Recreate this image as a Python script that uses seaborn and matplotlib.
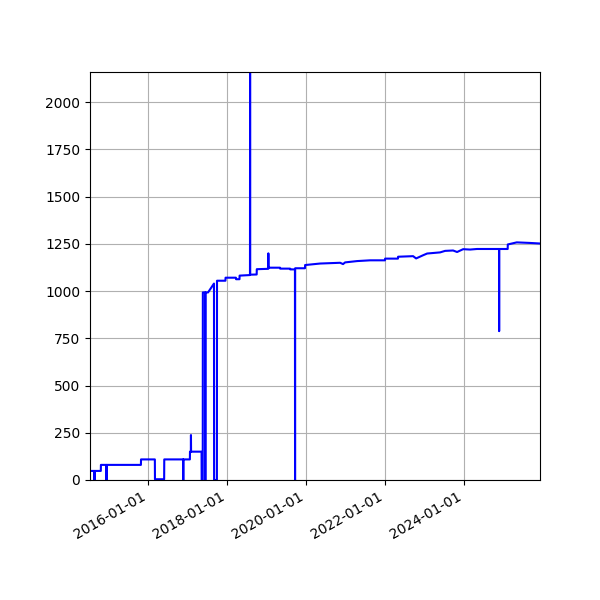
import pandas as pd
import matplotlib
matplotlib.use("Agg")
import matplotlib.pyplot as plt
import matplotlib.dates as mdates
import seaborn as sns

dates = [
    "2014-07-13", "2014-08-23", "2014-08-24", "2014-08-25", "2014-10-21", "2014-10-22",
    "2014-12-12", "2014-12-13", "2014-12-14", "2015-10-27", "2015-10-28", "2016-03-04",
    "2016-03-05", "2016-05-29", "2016-05-30", "2016-11-21", "2016-11-22", "2016-11-23",
    "2017-01-22", "2017-01-23", "2017-01-31", "2017-02-01", "2017-02-02", "2017-05-10",
    "2017-05-11", "2017-05-21", "2017-05-22", "2017-06-13", "2017-06-14", "2017-06-15",
    "2017-07-09", "2017-09-02", "2017-09-03", "2017-09-29", "2017-09-30", "2017-12-17",
    "2017-12-18", "2018-03-24", "2018-03-25", "2018-04-26", "2018-04-27", "2018-08-01",
    "2018-08-02", "2018-08-03", "2018-10-02", "2018-10-03", "2019-01-17", "2019-01-18",
    "2019-01-19", "2019-05-06", "2019-05-07", "2019-08-07", "2019-08-08", "2019-09-21",
    "2019-09-22", "2019-09-23", "2019-12-23", "2019-12-24", "2020-05-11", "2020-11-12",
    "2020-12-09", "2020-12-28", "2021-04-18", "2021-08-16", "2022-01-01", "2022-01-02",
    "2022-05-01", "2022-05-02", "2022-09-18", "2022-10-16", "2022-12-20", "2023-01-26",
    "2023-05-26", "2023-07-11", "2023-09-23", "2023-10-30", "2023-12-25", "2024-02-27",
    "2024-05-01", "2024-11-21", "2024-11-22", "2024-11-23", "2025-02-09", "2025-02-10",
    "2025-05-04", "2025-09-04", "2025-12-05",
]
counts = [
    48, 48, 0, 48, 48, 80,
    80, 0, 80, 80, 109, 109,
    4, 4, 109, 109, 0, 109,
    109, 150, 150, 238, 150, 150,
    0, 0, 993, 993, 0, 993,
    993, 1040, 0, 0, 1055, 1055,
    1071, 1071, 1063, 1063, 1082, 1085,
    2160, 1087, 1088, 1116, 1118, 1200,
    1124, 1124, 1119, 1119, 1115, 1115,
    0, 1121, 1121, 1138, 1146, 1150,
    1143, 1152, 1159, 1163, 1163, 1172,
    1172, 1182, 1185, 1173, 1190, 1199,
    1205, 1213, 1215, 1207, 1222, 1220,
    1223, 1223, 788, 1223, 1223, 1247,
    1258, 1255, 1252,
]

df = pd.DataFrame({"date": pd.to_datetime(dates), "count": counts})

fig, ax = plt.subplots(figsize=(6, 6), dpi=100)
sns.lineplot(data=df, x="date", y="count", color="blue", linewidth=1.5,
             estimator=None, ax=ax)

ax.margins(0)
ax.set_ylim(0, df["count"].max())
ax.grid(True)
ax.set_xlabel("")
ax.set_ylabel("")
ax.xaxis.set_major_locator(mdates.YearLocator(2))
ax.xaxis.set_major_formatter(mdates.DateFormatter("%Y-%m-%d"))
fig.autofmt_xdate()
fig.subplots_adjust(left=0.15, right=0.9, bottom=0.2, top=0.88)

fig.savefig("out.png")
